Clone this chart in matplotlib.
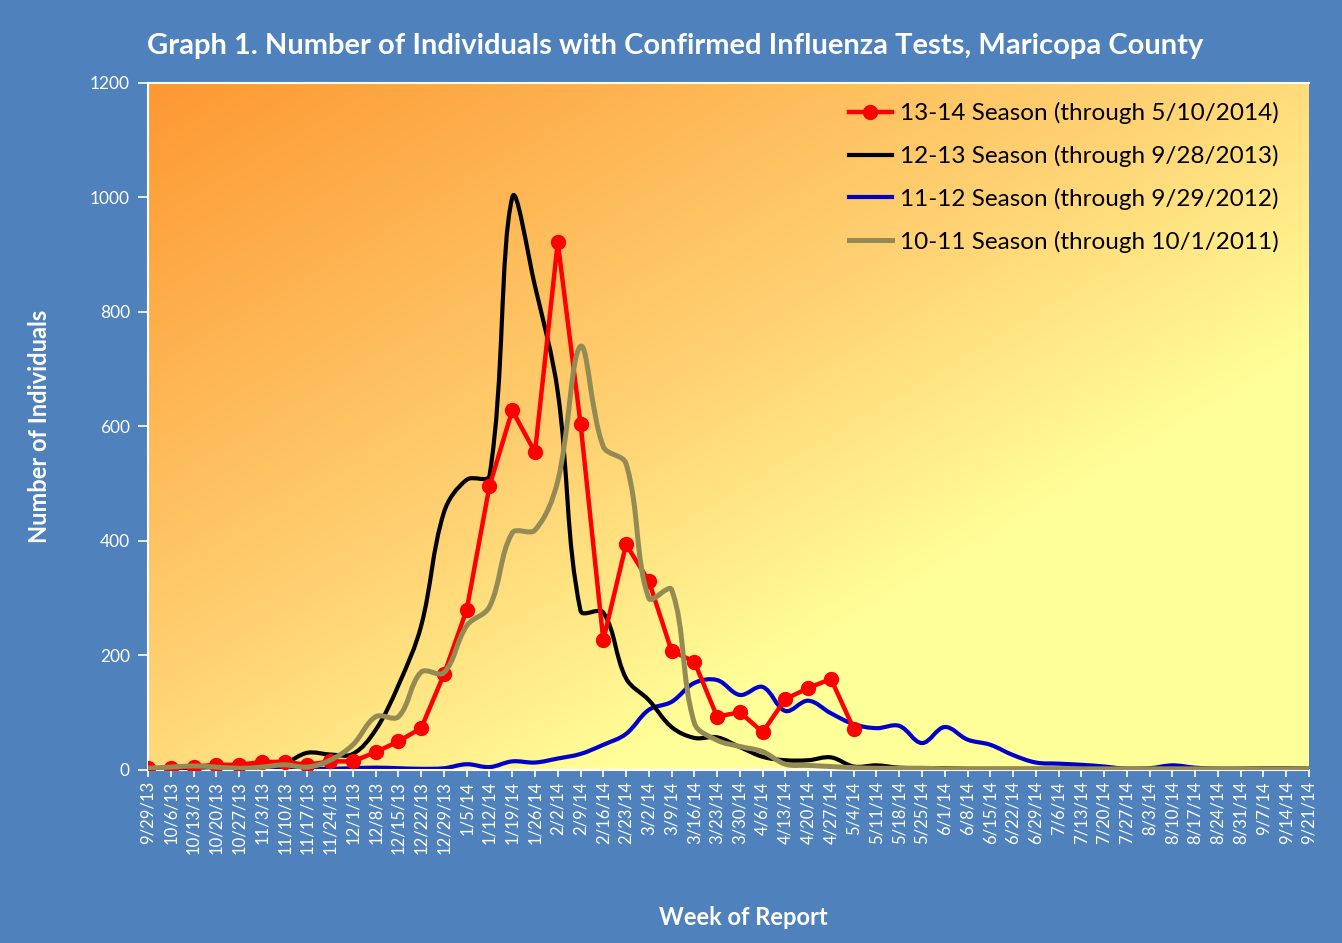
import numpy as np
import matplotlib
matplotlib.use("Agg")
import matplotlib.pyplot as plt
from matplotlib.path import Path
from matplotlib.patches import PathPatch
from matplotlib.lines import Line2D

plt.rcParams['font.family'] = ['Lato', 'DejaVu Sans']

weeks = ['9/29/13', '10/6/13', '10/13/13', '10/20/13', '10/27/13', '11/3/13', '11/10/13',
         '11/17/13', '11/24/13', '12/1/13', '12/8/13', '12/15/13', '12/22/13', '12/29/13',
         '1/5/14', '1/12/14', '1/19/14', '1/26/14', '2/2/14', '2/9/14', '2/16/14', '2/23/14',
         '3/2/14', '3/9/14', '3/16/14', '3/23/14', '3/30/14', '4/6/14', '4/13/14', '4/20/14',
         '4/27/14', '5/4/14', '5/11/14', '5/18/14', '5/25/14', '6/1/14', '6/8/14', '6/15/14',
         '6/22/14', '6/29/14', '7/6/14', '7/13/14', '7/20/14', '7/27/14', '8/3/14', '8/10/14',
         '8/17/14', '8/24/14', '8/31/14', '9/7/14', '9/14/14', '9/21/14']

# 13-14 season (through 5/10/2014)
season_1314 = [3, 3, 6, 9, 9, 14, 14, 9, 15, 15,
               31, 50, 73, 167, 280, 496, 628, 555, 922, 605,
               227, 394, 330, 208, 189, 93, 101, 66, 124, 143,
               159, 72]

# 12-13 season
season_1213 = [3, 3, 4, 5, 6, 8, 12, 30, 27, 28,
               70, 148, 252, 450, 507, 514, 1000, 845, 660, 278,
               275, 160, 122, 75, 56, 57, 40, 23, 17, 17,
               22, 6, 8, 4, 3, 3, 2, 2, 2, 2,
               2, 2, 2, 2, 2, 2, 2, 2, 2, 2,
               2, 2]

# 11-12 season
season_1112 = [1, 1, 1, 1, 1, 2, 3, 2, 2, 3,
               4, 3, 2, 3, 10, 5, 15, 13, 20, 28,
               44, 63, 105, 119, 152, 157, 131, 145, 103, 121,
               99, 80, 73, 77, 47, 75, 53, 44, 26, 13,
               11, 9, 6, 2, 3, 8, 4, 2, 2, 3,
               3, 2]

# 10-11 season
season_1011 = [3, 5, 7, 5, 3, 5, 9, 5, 17, 44,
               93, 93, 171, 170, 252, 285, 414, 419, 505, 740,
               565, 535, 300, 315, 82, 52, 41, 32, 10, 8,
               6, 4, 3, 3, 3, 2, 2, 2, 2, 2,
               2, 2, 2, 2, 2, 2, 2, 2, 2, 2,
               2, 2]

labels = ['13-14 Season (through 5/10/2014)', '12-13 Season (through 9/28/2013)',
          '11-12 Season (through 9/29/2012)', '10-11 Season (through 10/1/2011)']

BG = '#4F81BD'


def smooth_path(x, y, sx, sy, tension=0.36):
    # Excel style smoothed line: Bezier arms scaled by neighbouring segment lengths (in pixels)
    pts = np.column_stack([x, y]).astype(float)
    n = len(pts)
    pix = pts * [sx, sy]
    seg = np.hypot(*np.diff(pix, axis=0).T)
    out_c, in_c = [], []
    for i in range(n):
        prev = pts[max(i - 1, 0)]
        nxt = pts[min(i + 1, n - 1)]
        tang = nxt - prev
        d0 = seg[i - 1] if i > 0 else 0.0
        d1 = seg[i] if i < n - 1 else 0.0
        tot = d0 + d1 if d0 + d1 > 0 else 1.0
        out_c.append(pts[i] + tang * tension * d1 / tot)
        in_c.append(pts[i] - tang * tension * d0 / tot)
    verts = [pts[0]]
    codes = [Path.MOVETO]
    for i in range(n - 1):
        verts += [out_c[i], in_c[i + 1], pts[i + 1]]
        codes += [Path.CURVE4] * 3
    return Path(verts, codes)


fig = plt.figure(figsize=(13.42, 9.43), dpi=100, facecolor=BG)
ax = fig.add_axes([0.1103, 0.1835, 0.8651, 0.7285])

# gradient plot area
n = 300
u, v = np.meshgrid(np.linspace(0, 1, n), np.linspace(0, 1, n))
s = (u + v) / 2
stops = [0.0, 0.45, 0.7, 1.0]
cols = np.array([[253, 152, 50], [255, 210, 115], [255, 255, 153], [255, 255, 153]]) / 255
img = np.dstack([np.interp(s, stops, cols[:, k]) for k in range(3)])
ax.imshow(img, extent=[0, 1, 0, 1], transform=ax.transAxes, aspect='auto',
          origin='upper', zorder=0, interpolation='bilinear')

x_all = np.arange(len(weeks))
ax.set_xlim(0, len(weeks) - 1)
ax.set_ylim(0, 1200)

# pixel size of one data unit, used for the smoothing arms
px_x = 1161 / (len(weeks) - 1)
px_y = 687 / 1200

series = [(season_1112, '#0000CC', 3.0, 2),
          (season_1213, '#000000', 3.0, 3),
          (season_1011, '#948A54', 3.6, 5)]
for vals, col, lw, z in series:
    patch = PathPatch(smooth_path(x_all[:len(vals)], vals, px_x, px_y), fill=False,
                      edgecolor=col, lw=lw, capstyle='round', joinstyle='round', zorder=z)
    ax.add_patch(patch)

ax.plot(x_all[:len(season_1314)], season_1314, color='#FF0000', lw=3.2, marker='o',
        markersize=10, zorder=4)

ax.set_yticks(range(0, 1201, 200))
ax.set_xticks(x_all)
ax.set_xticklabels(weeks, rotation=90)
ax.tick_params(axis='x', colors='white', labelsize=12, direction='out', length=5, width=1.2, pad=3)
ax.tick_params(axis='y', colors='white', labelsize=12.5, direction='out', length=7, width=1.2, pad=6)
for lab in ax.get_xticklabels() + ax.get_yticklabels():
    lab.set_color('white')

for side in ['left', 'bottom', 'top']:
    ax.spines[side].set_color('white')
    ax.spines[side].set_linewidth(1.5)
ax.spines['right'].set_visible(False)

ax.set_ylabel('Number of Individuals', color='white', fontsize=17, fontweight='bold', labelpad=28)
fig.text(0.554, 0.027, 'Week of Report', color='white', fontsize=17, fontweight='bold',
         ha='center', va='center')
fig.text(0.503, 0.951, 'Graph 1. Number of Individuals with Confirmed Influenza Tests, Maricopa County',
         color='white', fontsize=21, fontweight='bold', ha='center', va='center')

handles = [Line2D([], [], color='#FF0000', lw=3.2, marker='o', markersize=10),
           Line2D([], [], color='#000000', lw=3.0),
           Line2D([], [], color='#0000CC', lw=3.0),
           Line2D([], [], color='#948A54', lw=3.6)]
ax.legend(handles, labels, loc='upper right', frameon=False, fontsize=17.5,
          handlelength=1.8, handletextpad=0.3, labelspacing=0.85,
          borderaxespad=0.0, bbox_to_anchor=(0.982, 0.986))

fig.savefig('out.png', dpi=100, facecolor=BG)
